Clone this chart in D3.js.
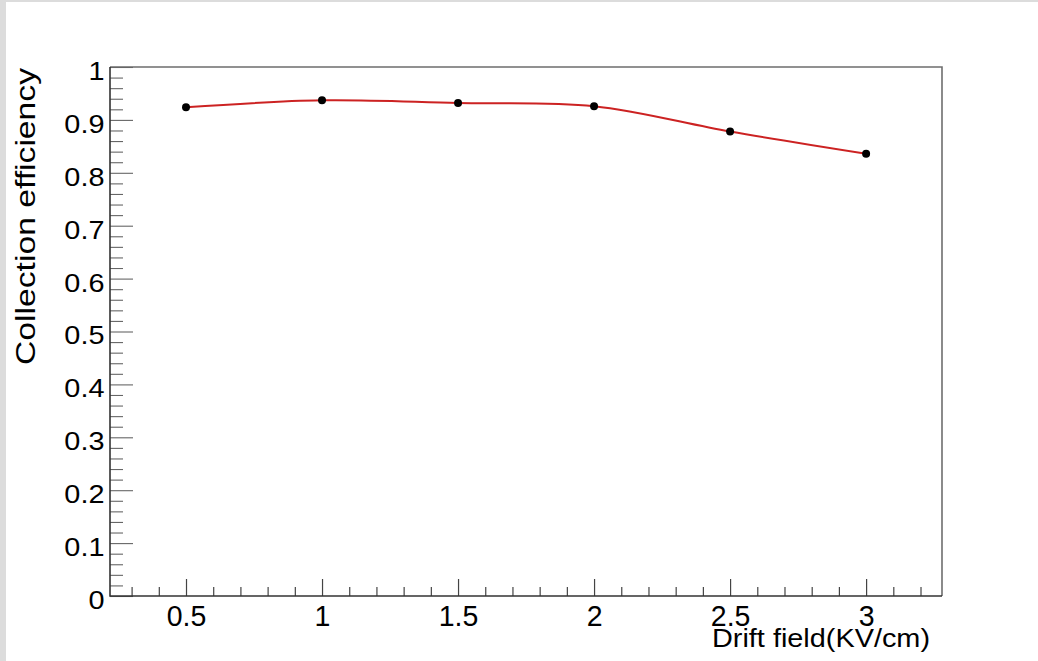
<!DOCTYPE html>
<html>
<head>
<meta charset="utf-8">
<script src="https://cdn.jsdelivr.net/npm/d3@7"></script>
<style>
  html, body { margin: 0; padding: 0; background: #fff; }
  svg { display: block; }
  text { font-family: "Liberation Sans", Arial, Helvetica, sans-serif; fill: #000; }
</style>
</head>
<body>
<svg id="chart" width="1038" height="661"></svg>
<script>
// Measured collection efficiency vs. drift field
const driftField = [0.5, 1, 1.5, 2, 2.5, 3];
const efficiency = [0.924, 0.937, 0.932, 0.926, 0.878, 0.836];

// Axis ticks and labels
const xMajorTicks = [0.5, 1, 1.5, 2, 2.5, 3];
const xTickLabels = ["0.5", "1", "1.5", "2", "2.5", "3"];
const xMinorTicks = [0.3, 0.4, 0.6, 0.7, 0.8, 0.9, 1.1, 1.2, 1.3, 1.4, 1.6, 1.7, 1.8, 1.9,
                     2.1, 2.2, 2.3, 2.4, 2.6, 2.7, 2.8, 2.9, 3.1, 3.2];
const yMajorTicks = [0, 0.1, 0.2, 0.3, 0.4, 0.5, 0.6, 0.7, 0.8, 0.9, 1];
const yTickLabels = ["0", "0.1", "0.2", "0.3", "0.4", "0.5", "0.6", "0.7", "0.8", "0.9", "1"];
const yMinorTicks = d3.range(0, 50).map(i => i * 0.02).filter((v, i) => i % 5 !== 0);

const xTitle = "Drift field(KV/cm)";
const yTitle = "Collection efficiency";

const W = 1038, H = 661;
const frame = { left: 110, top: 67, right: 942, bottom: 596 };

const svg = d3.select("#chart");

// canvas border
svg.append("rect").attr("x", 0).attr("y", 0).attr("width", W).attr("height", 2).attr("fill", "#dcdcdc");
svg.append("rect").attr("x", 0).attr("y", 0).attr("width", 6).attr("height", H).attr("fill", "#dcdcdc");

const x = d3.scaleLinear().domain([0.2206, 3.279]).range([frame.left, frame.right]);
const y = d3.scaleLinear().domain([0, 1]).range([frame.bottom, frame.top]);

// frame (top and right edges)
svg.append("path")
  .attr("d", `M${frame.left},${frame.top}H${frame.right}V${frame.bottom}`)
  .attr("fill", "none").attr("stroke", "#6e6e6e").attr("stroke-width", 1.6);

// x axis
const xMinor = svg.append("g").attr("transform", `translate(0,${frame.bottom})`)
  .call(d3.axisBottom(x).tickValues(xMinorTicks).tickSize(-9).tickFormat(""));
const xMajor = svg.append("g").attr("transform", `translate(0,${frame.bottom})`)
  .call(d3.axisBottom(x).tickValues(xMajorTicks).tickSize(-17)
    .tickFormat((d, i) => xTickLabels[i]));
[xMinor, xMajor].forEach(g => {
  g.select(".domain").remove();
  g.selectAll(".tick line").attr("stroke", "#444").attr("stroke-width", 1.2);
});
xMajor.selectAll(".tick text")
  .attr("y", 30).attr("dy", 0)
  .attr("transform", "scale(0.95,1)")
  .style("font-size", "30px");

// y axis
const yMinor = svg.append("g").attr("transform", `translate(${frame.left},0)`)
  .call(d3.axisLeft(y).tickValues(yMinorTicks).tickSize(-13).tickFormat(""));
const yMajor = svg.append("g").attr("transform", `translate(${frame.left},0)`)
  .call(d3.axisLeft(y).tickValues(yMajorTicks).tickSize(-23).tickPadding(5)
    .tickFormat((d, i) => yTickLabels[i]));
[yMinor, yMajor].forEach(g => {
  g.select(".domain").remove();
  g.selectAll(".tick line").attr("stroke", "#666").attr("stroke-width", 1.1);
});
yMajor.selectAll(".tick text")
  .attr("dy", "0.48em")
  .attr("transform", "scale(1.11,1)")
  .style("font-size", "26px");

// axis lines
svg.append("path")
  .attr("d", `M${frame.left},${frame.top}V${frame.bottom}H${frame.right}`)
  .attr("fill", "none").attr("stroke", "#333").attr("stroke-width", 1.6);

// smooth curve through the measurements
const pts = driftField.map((d, i) => [d, efficiency[i]]);
svg.append("path")
  .datum(pts)
  .attr("d", d3.line().x(d => x(d[0])).y(d => y(d[1])).curve(d3.curveCatmullRom.alpha(0.5)))
  .attr("fill", "none").attr("stroke", "#cc2222").attr("stroke-width", 2);

// markers
svg.append("g").selectAll("circle")
  .data(pts).join("circle")
  .attr("cx", d => x(d[0])).attr("cy", d => y(d[1]))
  .attr("r", 4).attr("fill", "#000");

// axis titles
svg.append("text")
  .attr("x", 930).attr("y", 647)
  .attr("text-anchor", "end")
  .attr("textLength", 218).attr("lengthAdjust", "spacingAndGlyphs")
  .style("font-size", "25px")
  .text(xTitle);

svg.append("text")
  .attr("transform", "translate(35,216.5) rotate(-90)")
  .attr("text-anchor", "middle")
  .attr("textLength", 297).attr("lengthAdjust", "spacingAndGlyphs")
  .style("font-size", "27px")
  .text(yTitle);
</script>
</body>
</html>
